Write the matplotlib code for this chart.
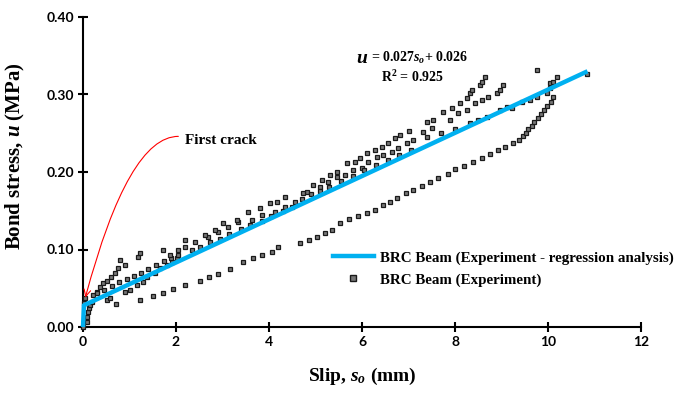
import matplotlib
matplotlib.use("Agg")
import matplotlib.pyplot as plt
from matplotlib.lines import Line2D

plt.rcParams['mathtext.fontset'] = 'custom'
plt.rcParams['mathtext.rm'] = 'Liberation Serif:bold'
plt.rcParams['mathtext.it'] = 'Liberation Serif:italic:bold'
plt.rcParams['mathtext.bf'] = 'Liberation Serif:bold'

# ---------------- data ----------------
init_x = [0.0, 0.03, 0.04, 0.08, 0.08, 0.10, 0.12, 0.15, 0.19]
init_y = [0.0, 0.031, 0.037, 0.006, 0.013, 0.019, 0.024, 0.028, 0.032]

branch_x = [0.22, 0.30, 0.37, 0.43, 0.52, 0.60, 0.69, 0.75, 0.80, 0.90, 1.18, 1.22]
branch_y = [0.041, 0.045, 0.052, 0.057, 0.060, 0.065, 0.070, 0.076, 0.086, 0.080, 0.090, 0.095]

below_x = [0.52, 0.58, 0.90, 1.00, 1.16, 1.29, 1.37, 1.55, 1.65, 1.80, 1.92, 2.02]
below_y = [0.035, 0.037, 0.045, 0.048, 0.054, 0.058, 0.065, 0.070, 0.076, 0.080, 0.084, 0.089]

near_x = [0.30, 0.45, 0.62, 0.78, 0.95, 1.10, 1.25, 1.40, 1.58, 1.75, 1.90, 2.05,
          2.34, 2.52, 2.73, 2.95, 3.15, 3.40, 3.60, 3.85, 4.05, 4.30, 4.50]
near_y = [0.044, 0.048, 0.053, 0.058, 0.062, 0.066, 0.070, 0.075, 0.080, 0.085, 0.089, 0.093,
          0.099, 0.103, 0.110, 0.114, 0.120, 0.126, 0.131, 0.137, 0.143, 0.150, 0.155]

mid_x = [2.19, 2.41, 2.69, 2.90, 3.12, 3.33, 3.63, 3.85, 4.13, 4.34, 4.56, 4.82, 5.10, 5.27,
         5.46, 5.63, 5.81, 6.00, 6.13, 6.32, 6.45, 6.65, 6.77, 6.97, 7.10, 7.31, 7.50, 7.89,
         8.06, 8.25, 8.43, 8.58, 8.71, 8.90, 8.97, 9.03]
mid_y = [0.103, 0.110, 0.116, 0.123, 0.129, 0.135, 0.138, 0.144, 0.148, 0.155, 0.161, 0.174,
         0.181, 0.187, 0.194, 0.196, 0.203, 0.205, 0.213, 0.219, 0.222, 0.226, 0.231, 0.237,
         0.241, 0.252, 0.257, 0.267, 0.276, 0.280, 0.289, 0.293, 0.297, 0.302, 0.306, 0.312]

top_x = [1.72, 1.87, 2.04, 2.20, 2.62, 2.84, 3.01, 3.31, 3.55, 3.81, 4.02, 4.17, 4.34, 4.73,
         4.95, 5.14, 5.31, 5.46, 5.68, 5.85, 5.96, 6.10, 6.28, 6.43, 6.56, 6.71, 6.82, 7.00,
         7.40, 7.53, 7.74, 7.94, 8.10, 8.26, 8.32, 8.37, 8.54, 8.58, 8.65]
top_y = [0.099, 0.093, 0.099, 0.112, 0.119, 0.125, 0.134, 0.138, 0.148, 0.153, 0.160, 0.161,
         0.168, 0.173, 0.183, 0.190, 0.196, 0.200, 0.212, 0.213, 0.218, 0.224, 0.228, 0.232,
         0.237, 0.244, 0.248, 0.253, 0.264, 0.267, 0.277, 0.282, 0.289, 0.295, 0.302, 0.306,
         0.312, 0.316, 0.323]

late_x = [4.70, 4.90, 5.10, 5.30, 5.55, 5.80, 6.05, 6.30, 6.55, 6.80, 7.05, 7.40, 7.70, 8.00,
          8.32, 8.50, 8.69, 8.97, 9.12, 9.22, 9.44, 9.61, 9.76, 9.98, 10.04, 10.04, 10.10, 10.19]
late_y = [0.165, 0.171, 0.176, 0.181, 0.188, 0.195, 0.202, 0.209, 0.216, 0.222, 0.229, 0.245,
          0.250, 0.256, 0.263, 0.267, 0.271, 0.280, 0.284, 0.282, 0.290, 0.293, 0.297, 0.302,
          0.308, 0.315, 0.316, 0.323]

low_x = [0.72, 1.23, 1.50, 1.72, 1.94, 2.19, 2.52, 2.70, 2.91, 3.16, 3.45, 3.66, 3.84, 4.06,
         4.20, 4.67, 4.85, 5.03, 5.20, 5.35, 5.53, 5.72, 5.91, 6.10, 6.28, 6.45, 6.60, 6.75,
         6.95, 7.10, 7.29, 7.46, 7.64, 7.85, 8.00, 8.19, 8.39, 8.58, 8.75, 8.92, 9.08, 9.25,
         9.38, 9.46, 9.53, 9.57, 9.66, 9.70, 9.78, 9.85, 9.91, 9.98, 10.06, 10.11]
low_y = [0.030, 0.035, 0.040, 0.044, 0.049, 0.054, 0.059, 0.064, 0.069, 0.075, 0.084, 0.089,
         0.093, 0.097, 0.103, 0.108, 0.112, 0.116, 0.121, 0.125, 0.134, 0.139, 0.143, 0.147,
         0.151, 0.157, 0.161, 0.166, 0.173, 0.177, 0.182, 0.187, 0.192, 0.197, 0.204, 0.208,
         0.213, 0.218, 0.223, 0.228, 0.232, 0.237, 0.241, 0.246, 0.250, 0.255, 0.259, 0.265,
         0.270, 0.275, 0.280, 0.285, 0.290, 0.297]

outlier_x = [9.76, 10.84]
outlier_y = [0.332, 0.326]

reg_x = [0.0, 0.02, 10.85]
reg_y = [0.0, 0.028, 0.330]

x_ticks = [0, 2, 4, 6, 8, 10, 12]
y_ticks = [0.0, 0.1, 0.2, 0.3, 0.4]
y_tick_labels = ["0.00", "0.10", "0.20", "0.30", "0.40"]

# ---------------- figure ----------------
fig = plt.figure(figsize=(6.89, 3.93), dpi=100)
ax = fig.add_axes([83/689, 66/393, 558/689, 310/393])

exp_x = init_x + branch_x + below_x + near_x + mid_x + top_x + late_x + low_x + outlier_x
exp_y = init_y + branch_y + below_y + near_y + mid_y + top_y + late_y + low_y + outlier_y

ax.plot(exp_x, exp_y, linestyle='none', marker='s', markersize=3.4,
        markerfacecolor='#777777', markeredgecolor='#1a1a1a', markeredgewidth=0.9,
        zorder=3, clip_on=False)
ax.plot(reg_x, reg_y, color='#00B0F0', linewidth=3.2, zorder=4,
        solid_capstyle='butt', clip_on=False)

ax.set_xlim(0, 12)
ax.set_ylim(0, 0.40)
ax.set_xticks(x_ticks)
ax.set_yticks(y_ticks)
ax.set_yticklabels(y_tick_labels)

for s in ['top', 'right']:
    ax.spines[s].set_visible(False)
for s in ['left', 'bottom']:
    ax.spines[s].set_linewidth(1.5)
    ax.spines[s].set_color('black')
ax.tick_params(direction='inout', length=7, width=1.5, colors='black', pad=3)
for lab in ax.get_xticklabels() + ax.get_yticklabels():
    lab.set_fontfamily('Lato')
    lab.set_fontweight('bold')
    lab.set_fontsize(10)

ax.set_xlabel(r'Slip, $s_o$ (mm)', fontfamily='Liberation Serif', fontweight='bold',
              fontsize=14, labelpad=13)
ax.set_ylabel(r'Bond stress, $u$ (MPa)', fontfamily='Liberation Serif', fontweight='bold',
              fontsize=15)
ax.yaxis.set_label_coords(-0.10, 0.55)

# equation
ax.text(5.88, 0.3465, r'$u$', fontsize=14, fontfamily='Liberation Serif', ha='left', va='center')
ax.text(6.2, 0.347, r'= 0.027$s_o$+ 0.026', fontsize=10, fontfamily='Liberation Serif',
        fontweight='bold', ha='left', va='center')
ax.text(6.4, 0.323, r'R$^{2}$ = 0.925', fontsize=10, fontfamily='Liberation Serif',
        fontweight='bold', ha='left', va='center')

# first crack annotation
ax.annotate('', xy=(0.05, 0.038), xytext=(2.05, 0.246),
            arrowprops=dict(arrowstyle='->', color='red', lw=0.8,
                            connectionstyle='angle3,angleA=0,angleB=75',
                            shrinkA=0, shrinkB=0, mutation_scale=12))
ax.text(2.2, 0.241, 'First crack', fontsize=11, fontfamily='Liberation Serif',
        fontweight='bold', ha='left', va='center')

# legend
handles = [Line2D([0], [0], color='#00B0F0', linewidth=3.2),
           Line2D([0], [0], linestyle='none', marker='s', markersize=5,
                  markerfacecolor='#777777', markeredgecolor='#1a1a1a', markeredgewidth=1.0)]
labels = ['BRC Beam (Experiment - regression analysis)', 'BRC Beam (Experiment)']
leg = fig.legend(handles, labels, loc='upper left', bbox_to_anchor=(327/689, 1 - 245/393),
                 frameon=False, prop={'family': 'Liberation Serif', 'weight': 'bold', 'size': 10.8},
                 handlelength=2.7, handletextpad=0.45, labelspacing=0.55, borderaxespad=0)

fig.savefig('out.png', dpi=100)
